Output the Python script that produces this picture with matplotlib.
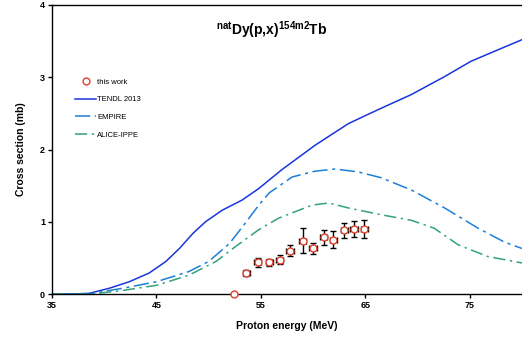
import matplotlib.pyplot as plt

plt.rcParams['font.family'] = ['Liberation Sans', 'DejaVu Sans']
plt.rcParams['mathtext.fontset'] = 'custom'
plt.rcParams['mathtext.bf'] = 'Liberation Sans:bold'
plt.rcParams['mathtext.rm'] = 'Liberation Sans:bold'

# measured points (this work)
exp_e = [53.6, 54.7, 55.8, 56.8, 57.8, 59.0, 60.0, 61.0, 61.95, 63.0, 63.9, 64.9]
exp_xs = [0.29, 0.44, 0.44, 0.475, 0.60, 0.74, 0.63, 0.785, 0.75, 0.88, 0.90, 0.90]
exp_dxs = [0.045, 0.065, 0.05, 0.065, 0.08, 0.17, 0.08, 0.10, 0.12, 0.10, 0.11, 0.12]
exp_de = [0.35, 0.35, 0.35, 0.35, 0.35, 0.35, 0.35, 0.35, 0.35, 0.35, 0.35, 0.35]
zero_e = [52.4]
zero_xs = [0.0]

tendl_e = [35, 37, 38.6, 40.5, 42.4, 44.3, 45.9, 47.2, 48.5, 49.7, 51.3, 53.2,
           54.8, 57.0, 60.2, 63.4, 66.2, 69.4, 72.6, 75.1, 77.7, 80]
tendl_xs = [0, 0, 0.01, 0.08, 0.17, 0.29, 0.45, 0.63, 0.84, 1.00, 1.16, 1.30,
            1.46, 1.72, 2.06, 2.36, 2.55, 2.76, 3.01, 3.22, 3.38, 3.52]

empire_e = [35, 38.5, 41.8, 45.0, 48.1, 50.0, 52.0, 53.5, 54.8, 55.8, 58.0, 60.2,
            62.1, 64.3, 66.5, 69.4, 72.6, 75.8, 78.3, 80]
empire_xs = [0, 0, 0.08, 0.17, 0.31, 0.45, 0.70, 0.98, 1.23, 1.40, 1.62, 1.70,
             1.73, 1.69, 1.61, 1.44, 1.19, 0.91, 0.72, 0.63]

alice_e = [35, 38.8, 41.8, 45.0, 48.1, 50.7, 52.6, 54.8, 56.7, 59.9, 61.5, 63.4,
           66.4, 69.4, 71.6, 73.9, 76.7, 80]
alice_xs = [0, 0, 0.05, 0.12, 0.26, 0.45, 0.66, 0.89, 1.05, 1.23, 1.26, 1.19,
            1.10, 1.02, 0.91, 0.68, 0.52, 0.43]

fig = plt.figure(figsize=(5.22, 3.38), dpi=100)
ax = fig.add_axes([52 / 522, 44 / 338, 470 / 522, 289 / 338])

ax.plot(tendl_e, tendl_xs, color='#1a35dc', lw=1.1, label='TENDL 2013')
ax.plot(empire_e, empire_xs, color='#1d7fd8', lw=1.1, dashes=(10, 3, 2, 3),
        label='EMPIRE')
ax.plot(alice_e, alice_xs, color='#33a27a', lw=1.1, dashes=(8, 3, 1.5, 3),
        label='ALICE-IPPE')
ax.errorbar(exp_e, exp_xs, yerr=exp_dxs, xerr=exp_de, fmt='none', ecolor='black',
            elinewidth=1.0, capsize=2, capthick=1.0, zorder=3)
ax.plot(exp_e, exp_xs, 'o', mfc='white', mec='#e0402a', mew=1.0, ms=5,
        zorder=4, label='this work')
ax.plot(zero_e, zero_xs, 'o', mfc='white', mec='#e0402a', mew=1.0, ms=5,
        zorder=5, clip_on=False)

ax.set_xlim(35, 80)
ax.set_ylim(0, 4)
ax.set_xticks([35, 45, 55, 65, 75])
ax.set_yticks([0, 1, 2, 3, 4])
ax.tick_params(direction='out', length=3, width=1, labelsize=6.5, pad=2)
for lab in ax.get_xticklabels() + ax.get_yticklabels():
    lab.set_fontweight('bold')
for s in ax.spines.values():
    s.set_linewidth(1.0)
ax.spines['right'].set_visible(False)

ax.set_xlabel('Proton energy (MeV)', fontsize=7.5, fontweight='bold', labelpad=8)
ax.set_ylabel('Cross section (mb)', fontsize=7.5, fontweight='bold', labelpad=10)

ax.text(0.468, 0.913, r'$^{\mathbf{nat}}$Dy(p,x)$^{\mathbf{154m2}}$Tb',
        transform=ax.transAxes, ha='center', va='center', fontsize=10,
        fontweight='bold')

h, l = ax.get_legend_handles_labels()
order = [3, 0, 1, 2]
ax.legend([h[i] for i in order], [l[i] for i in order], loc='upper left',
          bbox_to_anchor=(0.035, 0.77), frameon=False, fontsize=5.5,
          handlelength=2.7, labelspacing=1.35, handletextpad=0.2)

fig.savefig('out.png', dpi=100)
